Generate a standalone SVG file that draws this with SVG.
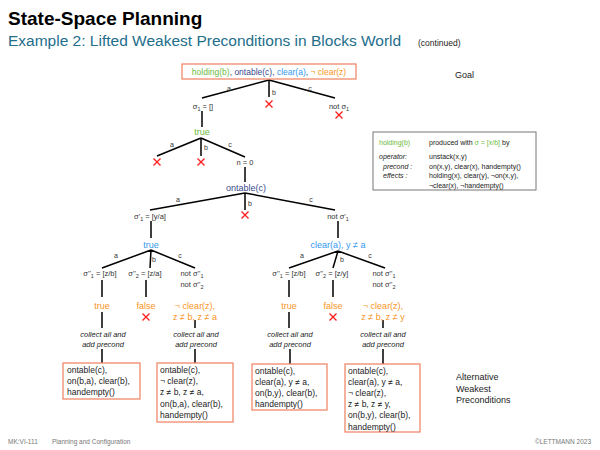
<svg xmlns="http://www.w3.org/2000/svg" width="600" height="450" viewBox="0 0 600 450">
<defs>
<style>
text{font-family:"Liberation Sans",Arial,Helvetica,sans-serif;fill:#222}
.t{font-weight:bold;font-size:19px;fill:#000}
.st{font-size:15.5px;fill:#236e8b}
.sm{font-size:9px}
.lbl{font-size:7px;fill:#333;text-anchor:middle}
.sg{font-size:7.5px;fill:#333;text-anchor:middle}
.nd{font-size:9px;text-anchor:middle}
.it{font-size:7.5px;font-style:italic;text-anchor:middle}
.bx{font-size:8.5px}
.ib{font-size:7px}
.ft{font-size:6.5px;fill:#777}
.g{fill:#6cbb3c}
.n{fill:#3b4a8c}
.b{fill:#3399ee}
.o{fill:#f7941d}
.e{stroke:#000;stroke-width:1.5;fill:none}
.box{fill:#fff;stroke:#f0896a;stroke-width:1.3}
</style>
<path id="x" d="M-3.5,-3.5L3.5,3.5M3.5,-3.5L-3.5,3.5" stroke="#ff2020" stroke-width="1.4" fill="none"/>
</defs>
<rect width="600" height="450" fill="#fff"/>
<g id="title">
<text class="t" x="8" y="25">State-Space Planning</text>
<text class="st" x="8" y="46">Example 2: Lifted Weakest Preconditions in Blocks World</text>
<text class="sm" x="418" y="46" style="font-size:8.5px">(continued)</text>
</g>
<g id="connectors" class="e">
<path d="M269,80L202,98M269,80L269,97M269,80L335,98"/>
<path d="M202,111L202,127"/>
<path d="M201,138L157,156M201,138L201,156M201,138L245,157"/>
<path d="M245,167L245,182"/>
<path d="M245,193L150,210M245,193L245,210M245,193L335,210"/>
<path d="M151,221L151,238M338,221L338,238"/>
<path d="M151,250L102,268M151,250L150,268M151,250L195,268"/>
<path d="M338,251L289,268M338,251L333,268M338,251L385,268"/>
<path d="M102,280L102,297M146,280L146,297M289,280L289,297M333,280L333,297"/>
<path d="M102,312L102,328M195,320L195,328M289,312L289,328M383,320L383,328"/>
<path d="M102,349L102,363M195,349L195,363M290,349L290,364M383,349L383,364"/>
</g>
<g id="edge-labels">
<text class="lbl" x="229" y="91">a</text><text class="lbl" x="274" y="95">b</text><text class="lbl" x="310" y="91">c</text>
<text class="lbl" x="172" y="147">a</text><text class="lbl" x="206" y="150">b</text><text class="lbl" x="230" y="147">c</text>
<text class="lbl" x="178" y="202">a</text><text class="lbl" x="250" y="206">b</text><text class="lbl" x="311" y="202">c</text>
<text class="lbl" x="116" y="258">a</text><text class="lbl" x="154" y="262">b</text><text class="lbl" x="180" y="258">c</text>
<text class="lbl" x="302" y="258">a</text><text class="lbl" x="342" y="262">b</text><text class="lbl" x="370" y="258">c</text>
</g>
<g id="goal">
<rect class="box" x="182" y="64" width="174" height="15"/>
<text class="nd" x="269" y="75" style="font-size:8.5px"><tspan class="g">holding(b)</tspan><tspan class="n">, ontable(c), </tspan><tspan class="b">clear(a)</tspan><tspan class="n">, </tspan><tspan class="o">¬ clear(z)</tspan></text>
</g>
<text id="goal-label" class="sm" x="455" y="78">Goal</text>
<g id="sigma1"><text class="sg" x="203" y="108.5">σ<tspan font-size="5.5" dy="2">1</tspan><tspan dy="-2"> = []</tspan></text></g>
<g id="x-b1"><use href="#x" x="269" y="104"/></g>
<g id="not-sigma1"><text class="sg" x="339" y="108.5">not σ<tspan font-size="5.5" dy="2">1</tspan></text><use href="#x" x="339" y="115"/></g>
<g id="true1"><text class="nd g" x="202" y="135">true</text></g>
<g id="x-a2"><use href="#x" x="157" y="162"/></g>
<g id="x-b2"><use href="#x" x="201" y="162"/></g>
<g id="n0"><text class="sg" x="245" y="164.5">n = 0</text></g>
<g id="ontable"><text class="nd n" x="246" y="190.5">ontable(c)</text></g>
<g id="sigmap1"><text class="sg" x="150" y="218.5">σ'<tspan font-size="5.5" dy="2">1</tspan><tspan dy="-2"> = [y/a]</tspan></text></g>
<g id="x-b3"><use href="#x" x="245" y="215"/></g>
<g id="not-sigmap1"><text class="sg" x="338" y="218.5">not σ'<tspan font-size="5.5" dy="2">1</tspan></text></g>
<g id="true2"><text class="nd b" x="151" y="247.5">true</text></g>
<g id="cleara"><text class="nd b" x="338" y="248">clear(a), y ≠ a</text></g>
<g id="L-s1"><text class="sg" x="100" y="275.5">σ''<tspan font-size="5.5" dy="2">1</tspan><tspan dy="-2"> = [z/b]</tspan></text></g>
<g id="L-s2"><text class="sg" x="145" y="275.5">σ''<tspan font-size="5.5" dy="2">2</tspan><tspan dy="-2"> = [z/a]</tspan></text></g>
<g id="L-not"><text class="sg" x="192" y="275.5">not σ''<tspan font-size="5.5" dy="2">1</tspan></text><text class="sg" x="192" y="286.5">not σ''<tspan font-size="5.5" dy="2">2</tspan></text></g>
<g id="R-s1"><text class="sg" x="289" y="275.5">σ''<tspan font-size="5.5" dy="2">1</tspan><tspan dy="-2"> = [z/b]</tspan></text></g>
<g id="R-s2"><text class="sg" x="332" y="275.5">σ''<tspan font-size="5.5" dy="2">2</tspan><tspan dy="-2"> = [z/y]</tspan></text></g>
<g id="R-not"><text class="sg" x="384" y="275.5">not σ''<tspan font-size="5.5" dy="2">1</tspan></text><text class="sg" x="384" y="286.5">not σ''<tspan font-size="5.5" dy="2">2</tspan></text></g>
<g id="L-true"><text class="nd o" x="102" y="309">true</text></g>
<g id="L-false"><text class="nd o" x="146" y="309">false</text><use href="#x" x="146" y="317"/></g>
<g id="L-neg"><text class="nd o" x="195" y="309">¬ clear(z),</text><text class="nd o" x="195" y="319.5">z ≠ b, z ≠ a</text></g>
<g id="R-true"><text class="nd o" x="289" y="309">true</text></g>
<g id="R-false"><text class="nd o" x="333" y="309">false</text><use href="#x" x="333" y="317"/></g>
<g id="R-neg"><text class="nd o" x="383" y="309">¬ clear(z),</text><text class="nd o" x="383" y="319.5">z ≠ b, z ≠ y</text></g>
<g id="collect1"><text class="it" x="103" y="336.5">collect all and</text><text class="it" x="103" y="346.5">add precond</text></g>
<g id="collect2"><text class="it" x="196" y="336.5">collect all and</text><text class="it" x="196" y="346.5">add precond</text></g>
<g id="collect3"><text class="it" x="290" y="336.5">collect all and</text><text class="it" x="290" y="346.5">add precond</text></g>
<g id="collect4"><text class="it" x="383" y="336.5">collect all and</text><text class="it" x="383" y="346.5">add precond</text></g>
<g id="box1"><rect class="box" x="63" y="363" width="77" height="36"/>
<text class="bx" x="67" y="373">ontable(c),</text><text class="bx" x="67" y="384.2">on(b,a), clear(b),</text><text class="bx" x="67" y="395.4">handempty()</text></g>
<g id="box2"><rect class="box" x="157" y="363" width="76" height="59"/>
<text class="bx" x="160" y="373">ontable(c),</text><text class="bx" x="160" y="384.2">¬ clear(z),</text><text class="bx" x="160" y="395.4">z ≠ b, z ≠ a,</text><text class="bx" x="160" y="406.6">on(b,a), clear(b),</text><text class="bx" x="160" y="417.8">handempty()</text></g>
<g id="box3"><rect class="box" x="252" y="364" width="75" height="46"/>
<text class="bx" x="255" y="373.5">ontable(c),</text><text class="bx" x="255" y="384.7">clear(a), y ≠ a,</text><text class="bx" x="255" y="395.9">on(b,y), clear(b),</text><text class="bx" x="255" y="407.1">handempty()</text></g>
<g id="box4"><rect class="box" x="345" y="364" width="75" height="68"/>
<text class="bx" x="348" y="373.5">ontable(c),</text><text class="bx" x="348" y="384.7">clear(a), y ≠ a,</text><text class="bx" x="348" y="395.9">¬ clear(z),</text><text class="bx" x="348" y="407.1">z ≠ b, z ≠ y,</text><text class="bx" x="348" y="418.3">on(b,y), clear(b),</text><text class="bx" x="348" y="429.5">handempty()</text></g>
<g id="alt-label"><text class="sm" x="456" y="380">Alternative</text><text class="sm" x="456" y="391.5">Weakest</text><text class="sm" x="456" y="403">Preconditions</text></g>
<g id="infobox">
<rect x="373" y="132" width="163" height="58" fill="#fff" stroke="#777" stroke-width="1"/>
<text class="ib g" x="379" y="145">holding(b)</text>
<text class="ib" x="429" y="145">produced with <tspan class="g">σ = [x/b]</tspan> by</text>
<text class="ib" x="379" y="158.5" font-style="italic">operator:</text>
<text class="ib" x="429" y="158.5">unstack(x,y)</text>
<text class="ib" x="383" y="168.5" font-style="italic">precond :</text>
<text class="ib" x="429" y="168.5">on(x,y), clear(x), handempty()</text>
<text class="ib" x="383" y="178" font-style="italic">effects :</text>
<text class="ib" x="429" y="178">holding(x), clear(y), ¬on(x,y),</text>
<text class="ib" x="429" y="187.5">¬clear(x), ¬handempty()</text>
</g>
<g id="footer">
<text class="ft" x="8" y="444">MK:VI-111</text>
<text class="ft" x="52" y="444">Planning and Configuration</text>
<text class="ft" x="591" y="444" text-anchor="end">©LETTMANN 2023</text>
</g>
</svg>
